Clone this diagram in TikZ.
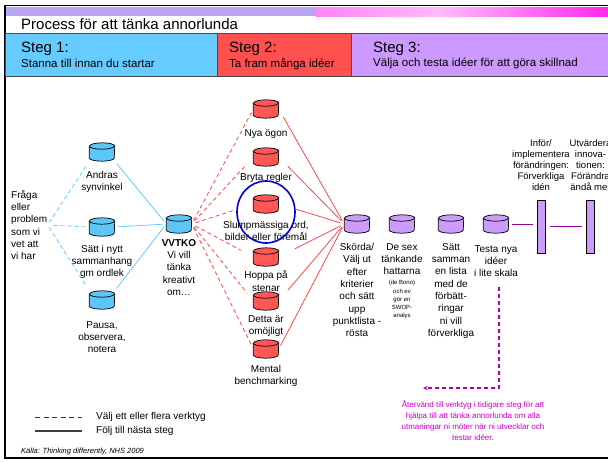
\documentclass[tikz,border=0pt]{standalone}
\usepackage{fontspec}
\setmainfont{Liberation Sans}
\usetikzlibrary{shapes.geometric, arrows, positioning}

\definecolor{stegBlue}{HTML}{66CCFF}
\definecolor{stegRed}{HTML}{FF5050}
\definecolor{stegPurple}{HTML}{CC99FF}
\definecolor{drumBlue}{HTML}{5CC6F8}
\definecolor{drumRed}{HTML}{FF5656}
\definecolor{drumPurple}{HTML}{CC9CFA}
\definecolor{lineBlue}{HTML}{66CCFF}
\definecolor{lineRed}{HTML}{FF4A4A}
\definecolor{linePurple}{HTML}{990099}
\definecolor{textPurple}{HTML}{CC00CC}
\definecolor{topLav}{HTML}{B8A6F4}
\definecolor{topPink}{HTML}{FF84F6}
\definecolor{topLight}{HTML}{FFBAFA}
\definecolor{topMag}{HTML}{FF1EEE}

\tikzstyle{drum} = [rectangle, minimum width=25pt, minimum height=18pt, inner sep=0pt]
\tikzstyle{drumEdge} = [draw=black, line width=0.7pt]
\tikzstyle{bar} = [rectangle, minimum width=8pt, minimum height=53pt, draw=black, line width=0.7pt, fill=drumPurple, inner sep=0pt]
\tikzstyle{drumText} = [align=center, inner sep=0pt, font=\fontsize{10}{12.3}\selectfont]
\tikzstyle{tinyText} = [align=center, inner sep=0pt, font=\fontsize{6}{8.3}\selectfont]
\tikzstyle{barText} = [align=center, inner sep=0pt, font=\fontsize{9.5}{11}\selectfont]
\tikzstyle{stegBox} = [rectangle, anchor=north west, minimum height=43pt, draw=black!70, line width=0.5pt, inner sep=0pt]
\tikzstyle{stegHead} = [inner sep=0pt, font=\fontsize{15}{18}\selectfont]
\tikzstyle{stegSub} = [inner sep=0pt, font=\fontsize{11.5}{14}\selectfont]
\tikzstyle{blueDash} = [draw=lineBlue, line width=0.8pt, dash pattern=on 4pt off 3pt]
\tikzstyle{blueLine} = [draw=lineBlue, line width=0.8pt]
\tikzstyle{redDash} = [draw=lineRed, line width=0.8pt, dash pattern=on 4pt off 3pt]
\tikzstyle{redLine} = [draw=lineRed, line width=0.8pt]
\tikzstyle{purpleLine} = [draw=linePurple, line width=0.8pt]
\tikzstyle{purpleDash} = [draw=textPurple!85!black, line width=1.1pt, dash pattern=on 4pt off 3pt, ->, >=stealth]

\begin{document}
\begin{tikzpicture}[x=1pt, y=-1pt, node distance=8pt]
\useasboundingbox (0,0) rectangle (608,461);

% frame and title
\fill [topLav] (5,7) rectangle (316,16);
\shade [left color=topPink, right color=topLight] (316,7) rectangle (440,16);
\shade [left color=topLight, right color=topMag] (440,7) rectangle (620,16);
\draw [line width=1.5pt] (4,5.5) -- (620,5.5);
\draw [line width=2pt] (4.5,5) -- (4.5,458);
\draw [line width=1.5pt] (4,458) -- (620,458);
\node (title) [anchor=west, inner sep=0pt, font=\fontsize{15}{18}\selectfont] at (21,24) {Process för att tänka annorlunda};

% steps
\node (steg1) [stegBox, fill=stegBlue, minimum width=212pt] at (5,33) {};
\node (steg2) [stegBox, fill=stegRed, minimum width=134pt] at (217,33) {};
\node (steg3) [stegBox, fill=stegPurple, minimum width=269pt] at (351,33) {};
\node (steg1Head) [stegHead, right=16pt of steg1.west, yshift=6pt] {Steg 1:};
\node (steg1Sub) [stegSub, right=16pt of steg1.west, yshift=-8.5pt] {Stanna till innan du startar};
\node (steg2Head) [stegHead, right=12pt of steg2.west, yshift=6pt] {Steg 2:};
\node (steg2Sub) [stegSub, right=12pt of steg2.west, yshift=-9pt] {Ta fram många idéer};
\node (steg3Head) [stegHead, right=22pt of steg3.west, yshift=6pt] {Steg 3:};
\node (steg3Sub) [stegSub, right=22pt of steg3.west, yshift=-9pt] {Välja och testa idéer för att göra skillnad};

% step 1
\node (question) [drumText, align=left, anchor=west] at (11,225) {Fråga\\eller\\problem\\som vi\\vet att\\vi har};
\node (andras) [drum] at (102,152) {};
\node (andrasText) [drumText, below=9.5pt of andras] {Andras\\synvinkel};
\node (context) [drum] at (102,227) {};
\node (contextText) [drumText, below=8.5pt of context] {Sätt i nytt\\sammanhang\\gm ordlek};
\node (pause) [drum] at (102,300) {};
\node (pauseText) [drumText, below=12pt of pause] {Pausa,\\observera,\\notera};
\node (vvtko) [drum] at (179,224) {};
\node (vvtkoText) [drumText, below=6pt of vvtko] {\textbf{VVTKO}\\Vi vill\\tänka\\kreativt\\om\dots};

% step 2
\node (newEyes) [drum] at (266,109) {};
\node (newEyesText) [drumText, below=11pt of newEyes] {Nya ögon};
\node (breakRules) [drum] at (266,157) {};
\node (breakRulesText) [drumText, below=7pt of breakRules] {Bryta regler};
\node (randomWords) [drum] at (266,204) {};
\node (randomWordsText) [drumText, below=8pt of randomWords] {Slumpmässiga ord,\\bilder eller föremål};
\node (jumpStones) [drum] at (266,257) {};
\node (jumpStonesText) [drumText, below=4.5pt of jumpStones] {Hoppa på\\stenar};
\node (impossible) [drum] at (266,301) {};
\node (impossibleText) [drumText, below=5pt of impossible] {Detta är\\omöjligt};
\node (benchmark) [drum] at (266,349) {};
\node (benchmarkText) [drumText, below=7pt of benchmark] {Mental\\benchmarking};

% step 3
\node (harvest) [drum] at (357,224) {};
\node (harvestText) [drumText, below=10pt of harvest] {Skörda/\\Välj ut\\efter\\kriterier\\och sätt\\upp\\punktlista -\\rösta};
\node (hats) [drum] at (402,224) {};
\node (hatsText) [drumText, below=10pt of hats] {De sex\\tänkande\\hattarna};
\node (hatsSmall) [tinyText, below=5pt of hatsText] {(de Bono)\\och ev\\gör en\\SWOP-\\analys};
\node (improve) [drum] at (451,224) {};
\node (improveText) [drumText, below=10pt of improve] {Sätt\\samman\\en lista\\med de\\förbätt-\\ringar\\ni vill\\förverkliga};
\node (test) [drum] at (496,224) {};
\node (testText) [drumText, below=12pt of test] {Testa nya\\idéer\\i lite skala};
\node (implement) [bar] at (541,226.5) {};
\node (implementText) [barText, above=9pt of implement] {Inför/\\implementera\\förändringen:\\Förverkliga\\idén};
\node (evaluate) [bar] at (590.5,226.5) {};
\node (evaluateText) [barText, above=9pt of evaluate] {Utvärdera\\innova-\\tionen:\\Förändra\\ändå mer};

% drum bodies
\foreach \d/\c in {andras/drumBlue, context/drumBlue, pause/drumBlue, vvtko/drumBlue,
  newEyes/drumRed, breakRules/drumRed, randomWords/drumRed, jumpStones/drumRed, impossible/drumRed, benchmark/drumRed,
  harvest/drumPurple, hats/drumPurple, improve/drumPurple, test/drumPurple} {
  \filldraw [drumEdge, fill=\c] ([yshift=-3.2pt]\d.north west) -- ([yshift=3.2pt]\d.south west)
    arc [start angle=180, end angle=360, x radius=12.5pt, y radius=3.2pt] -- ([yshift=-3.2pt]\d.north east)
    arc [start angle=0, end angle=180, x radius=12.5pt, y radius=3.2pt] -- cycle;
  \draw [drumEdge] ([yshift=-3.2pt]\d.north west) arc [start angle=180, end angle=360, x radius=12.5pt, y radius=3.2pt];
}
\draw [blue!85!black, line width=1.6pt] ([yshift=-8pt]randomWords.center) ellipse [x radius=29pt, y radius=31pt];

\coordinate (returnTop) at (499,287);
\coordinate (returnEnd) at (423,388);
\node (returnText) [align=center, inner sep=0pt, text=textPurple, font=\fontsize{8}{11}\selectfont] at (473,421) {Återvänd till verktyg i tidigare steg för att\\hjälpa till att tänka annorlunda om alla\\utmaningar ni möter när ni utvecklar och\\testar idéer.};

% legend
\coordinate (dashStart) at (35,417);
\coordinate (dashEnd) at (82,417);
\coordinate (lineStart) at (35,431);
\coordinate (lineEnd) at (82,431);
\node (dashText) [drumText, right=14pt of dashEnd] {Välj ett eller flera verktyg};
\node (lineText) [drumText, right=14pt of lineEnd] {Följ till nästa steg};
\node (source) [anchor=west, inner sep=0pt, font=\fontsize{7.5}{9}\selectfont\itshape] at (21,452) {Källa: Thinking differently, NHS 2009};

\draw [blueDash, shorten <=3pt, shorten >=6pt] (question.east) -- (andras.south west);
\draw [blueDash, shorten <=6pt, shorten >=4pt] (question.east) -- (context.west);
\draw [blueDash, shorten <=3pt, shorten >=6pt] (question.east) -- (pause.north west);
\draw [blueLine, shorten <=3pt, shorten >=3pt] (andras.south east) -- (vvtko.west);
\draw [blueLine, shorten <=3pt, shorten >=3pt] (context.east) -- (vvtko.west);
\draw [blueLine, shorten <=3pt, shorten >=3pt] (pause.north east) -- (vvtko.west);

\draw [redDash, shorten <=4pt, shorten >=4pt] (vvtko.east) -- (newEyes.west);
\draw [redDash, shorten <=4pt, shorten >=10pt] (vvtko.east) -- (breakRules.west);
\draw [redDash, shorten <=4pt, shorten >=21pt] (vvtko.east) -- (randomWords.west);
\draw [redDash, shorten <=4pt, shorten >=14pt] (vvtko.east) -- (jumpStones.west);
\draw [redDash, shorten <=4pt, shorten >=10pt] (vvtko.east) -- (impossible.west);
\draw [redDash, shorten <=4pt, shorten >=5pt] (vvtko.east) -- (benchmark.west);

\draw [redLine, shorten <=9pt, shorten >=4pt] (newEyes.east) -- (harvest.west);
\draw [redLine, shorten <=13pt, shorten >=4pt] (breakRules.east) -- (harvest.west);
\draw [redLine, shorten <=17pt, shorten >=4pt] (randomWords.east) -- (harvest.west);
\draw [redLine, shorten <=18pt, shorten >=4pt] (jumpStones.east) -- (harvest.west);
\draw [redLine, shorten <=14pt, shorten >=4pt] (impossible.east) -- (harvest.west);
\draw [redLine, shorten <=4pt, shorten >=4pt] (benchmark.east) -- (harvest.west);

\draw [purpleLine, shorten <=3pt, shorten >=4pt] (test.east) -- (test.east -| implement.west);
\draw [purpleLine, shorten <=5pt, shorten >=4.5pt] (implement.east) -- (evaluate.west);
\draw [purpleDash] (returnTop) |- (returnEnd);

\draw [draw=black!80, line width=0.8pt, dash pattern=on 5pt off 3.5pt] (dashStart) -- (dashEnd);
\draw [draw=black!75, line width=1.3pt] (lineStart) -- (lineEnd);
\end{tikzpicture}
\end{document}
